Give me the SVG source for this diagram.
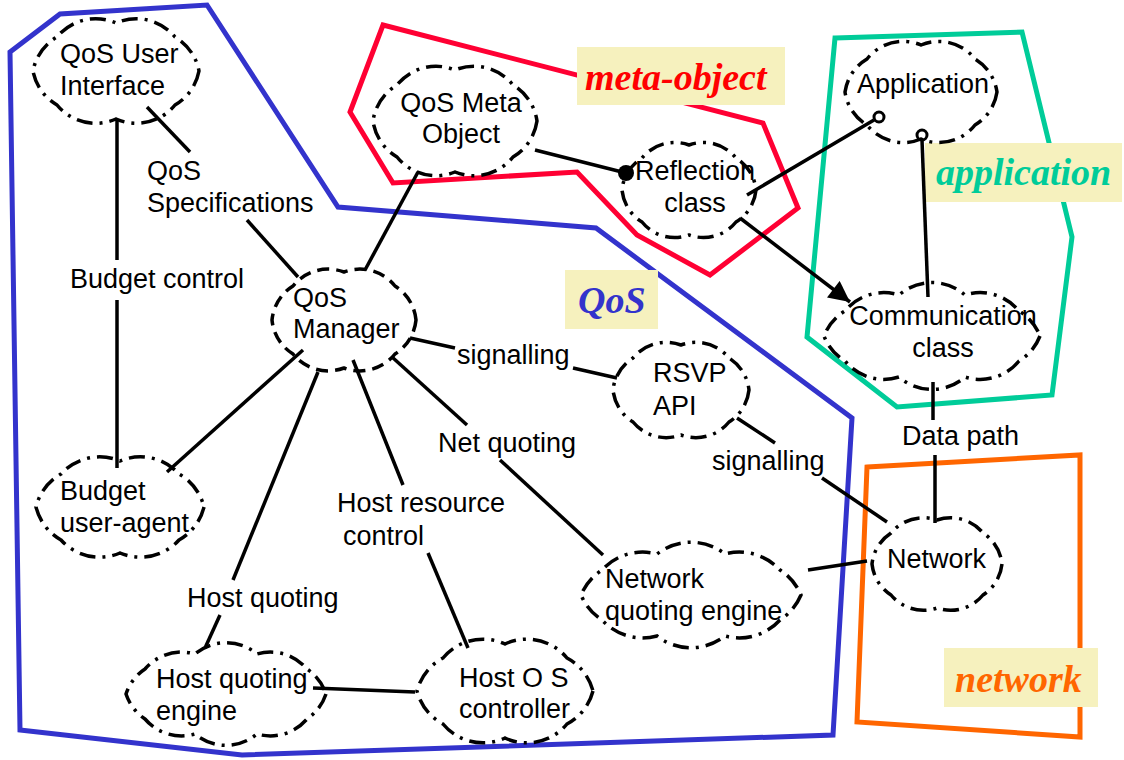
<svg xmlns="http://www.w3.org/2000/svg" width="1124" height="760" viewBox="0 0 1124 760">
<style>
.bg{fill:#ffffff}
.poly{fill:none;stroke-width:5;stroke-linejoin:miter}
.cloud{fill:none;stroke:#000;stroke-width:3.5;stroke-dasharray:16 7 3 7}
.cloud2{fill:none;stroke:#000;stroke-width:3.5;stroke-dasharray:12 7}
.t{font-family:'Liberation Sans',Arial,sans-serif;font-size:27px;fill:#000}
.lab{font-family:'Liberation Serif','Times New Roman',serif;font-size:38px;font-weight:bold;font-style:italic}
.box{fill:#F6F1BE}
.conn line{stroke:#000;stroke-width:3.5}
</style>
<defs>
<marker id="arr" viewBox="0 0 10 10" refX="10" refY="5" markerWidth="6.5" markerHeight="6" orient="auto" markerUnits="strokeWidth">
<path d="M0,0 L10,5 L0,10 z" fill="#000"/>
</marker>
</defs>
<rect class="bg" x="0" y="0" width="1124" height="760"/>

<g id="regions">
<polygon class="poly" stroke="#3333CC" points="10,52 60,14 207,5 338,207 596,228 852,418 833,735 242,755 20,730"/>
<polygon class="poly" stroke="#FF0033" points="383,25 763,123 798,208 710,275 637,235 577,172 393,183 350,112"/>
<polygon class="poly" stroke="#00CC99" points="835,38 1022,32 1072,237 1052,395 897,407 807,337"/>
<polygon class="poly" stroke="#FF6600" points="867,467 1080,455 1080,737 857,722"/>
</g>

<g id="region-labels">
<g id="label-meta-object"><rect class="box" x="577" y="47" width="208" height="58"/><text class="lab" x="585" y="90" fill="#FF0000">meta-object</text></g>
<g id="label-application"><rect class="box" x="925" y="143" width="197" height="59"/><text class="lab" x="936" y="185" fill="#00CC99">application</text></g>
<g id="label-qos"><rect class="box" x="565" y="270" width="93" height="59"/><text class="lab" x="578" y="313" fill="#3333CC">QoS</text></g>
<g id="label-network"><rect class="box" x="944" y="648" width="154" height="59"/><text class="lab" x="955" y="692" fill="#FF6600">network</text></g>
</g>

<g id="connectors" class="conn">
<line x1="117" y1="120" x2="117" y2="260"/><line x1="117" y1="300" x2="117" y2="468"/>
<text class="t" x="70" y="288">Budget control</text>
<line x1="147" y1="107" x2="190" y2="152"/><line x1="247" y1="220" x2="298" y2="277"/>
<text class="t" x="147" y="180">QoS</text><text class="t" x="147" y="212">Specifications</text>
<line x1="418" y1="172" x2="365" y2="270"/>
<line x1="535" y1="150" x2="626" y2="173"/>
<circle cx="626" cy="173" r="8" fill="#000"/>
<line x1="747" y1="195" x2="874" y2="120"/>
<circle cx="879" cy="117" r="5" fill="#fff" stroke="#000" stroke-width="3"/>
<line x1="922" y1="140" x2="928" y2="297"/>
<circle cx="922" cy="135" r="5" fill="#fff" stroke="#000" stroke-width="3"/>
<line x1="740" y1="218" x2="850" y2="302" marker-end="url(#arr)"/>
<line x1="933" y1="382" x2="933" y2="420"/><line x1="935" y1="455" x2="935" y2="523"/>
<text class="t" x="902" y="445">Data path</text>
<line x1="410" y1="338" x2="455" y2="348"/><line x1="573" y1="368" x2="617" y2="378"/>
<text class="t" x="457" y="364">signalling</text>
<line x1="737" y1="418" x2="775" y2="443"/><line x1="822" y1="478" x2="887" y2="522"/>
<text class="t" x="712" y="470">signalling</text>
<line x1="303" y1="350" x2="167" y2="472"/>
<line x1="318" y1="372" x2="233" y2="580"/><line x1="220" y1="615" x2="205" y2="648"/>
<text class="t" x="187" y="607">Host quoting</text>
<line x1="353" y1="360" x2="403" y2="485"/><line x1="428" y1="553" x2="468" y2="648"/>
<text class="t" x="337" y="512">Host resource</text><text class="t" x="343" y="545">control</text>
<line x1="392" y1="357" x2="467" y2="425"/><line x1="500" y1="460" x2="603" y2="555"/>
<text class="t" x="438" y="452">Net quoting</text>
<line x1="313" y1="688" x2="415" y2="692"/>
<line x1="808" y1="570" x2="867" y2="561"/>
</g>

<g id="node-qos-user-interface">
<path class="cloud" d="M199,71 A50,50 0 0 1 175,105 A50,50 0 0 1 116,119 A50,50 0 0 1 57,105 A50,50 0 0 1 33,71 A50,50 0 0 1 57,37 A50,50 0 0 1 116,23 A50,50 0 0 1 175,37 A50,50 0 0 1 199,71 Z"/>
<text class="t" x="60" y="63">QoS User</text><text class="t" x="60" y="95">Interface</text>
</g>
<g id="node-qos-meta-object">
<path class="cloud" d="M537,121 A50,50 0 0 1 513,157 A50,50 0 0 1 455,172 A50,50 0 0 1 397,157 A50,50 0 0 1 373,121 A50,50 0 0 1 397,85 A50,50 0 0 1 455,70 A50,50 0 0 1 513,85 A50,50 0 0 1 537,121 Z"/>
<text class="t" x="461" y="112" text-anchor="middle">QoS Meta</text><text class="t" x="461" y="143" text-anchor="middle">Object</text>
</g>
<g id="node-reflection-class">
<path class="cloud" d="M756,190 A42,42 0 0 1 736,222 A42,42 0 0 1 689,235 A42,42 0 0 1 642,222 A42,42 0 0 1 622,190 A42,42 0 0 1 642,158 A42,42 0 0 1 689,145 A42,42 0 0 1 736,158 A42,42 0 0 1 756,190 Z"/>
<text class="t" x="695" y="180" text-anchor="middle">Reflection</text><text class="t" x="695" y="212" text-anchor="middle">class</text>
</g>
<g id="node-application">
<path class="cloud" d="M997,92 A46,46 0 0 1 975,125 A46,46 0 0 1 921,139 A46,46 0 0 1 867,125 A46,46 0 0 1 845,92 A46,46 0 0 1 867,59 A46,46 0 0 1 921,45 A46,46 0 0 1 975,59 A46,46 0 0 1 997,92 Z"/>
<text class="t" x="923" y="93" text-anchor="middle">Application</text>
</g>
<g id="node-communication-class">
<path class="cloud" d="M1040,336 A50,50 0 0 1 1019,361 A50,50 0 0 1 965,377 A50,50 0 0 1 899,377 A50,50 0 0 1 845,361 A50,50 0 0 1 824,336 A50,50 0 0 1 845,311 A50,50 0 0 1 899,295 A50,50 0 0 1 965,295 A50,50 0 0 1 1019,311 A50,50 0 0 1 1040,336 Z"/>
<text class="t" x="943" y="325" text-anchor="middle">Communication</text><text class="t" x="943" y="357" text-anchor="middle">class</text>
</g>
<g id="node-qos-manager">
<path class="cloud2" d="M416,320 A45,45 0 0 1 395,354 A45,45 0 0 1 344,368 A45,45 0 0 1 293,354 A45,45 0 0 1 272,320 A45,45 0 0 1 293,286 A45,45 0 0 1 344,272 A45,45 0 0 1 395,286 A45,45 0 0 1 416,320 Z"/>
<text class="t" x="293" y="307">QoS</text><text class="t" x="293" y="338">Manager</text>
</g>
<g id="node-rsvp-api">
<path class="cloud" d="M749,390 A43,43 0 0 1 729,422 A43,43 0 0 1 681,435 A43,43 0 0 1 633,422 A43,43 0 0 1 613,390 A43,43 0 0 1 633,358 A43,43 0 0 1 681,345 A43,43 0 0 1 729,358 A43,43 0 0 1 749,390 Z"/>
<text class="t" x="653" y="382">RSVP</text><text class="t" x="653" y="415">API</text>
</g>
<g id="node-budget-user-agent">
<path class="cloud" d="M204,507 A52,52 0 0 1 179,540 A52,52 0 0 1 120,553 A52,52 0 0 1 61,540 A52,52 0 0 1 36,507 A52,52 0 0 1 61,474 A52,52 0 0 1 120,461 A52,52 0 0 1 179,474 A52,52 0 0 1 204,507 Z"/>
<text class="t" x="60" y="500">Budget</text><text class="t" x="60" y="532">user-agent</text>
</g>
<g id="node-host-quoting-engine">
<path class="cloud" d="M326,694 A48,48 0 0 1 307,719 A48,48 0 0 1 257,734 A48,48 0 0 1 195,734 A48,48 0 0 1 145,719 A48,48 0 0 1 126,694 A48,48 0 0 1 145,669 A48,48 0 0 1 195,654 A48,48 0 0 1 257,654 A48,48 0 0 1 307,669 A48,48 0 0 1 326,694 Z"/>
<text class="t" x="156" y="688">Host quoting</text><text class="t" x="156" y="720">engine</text>
</g>
<g id="node-host-os-controller">
<path class="cloud" d="M593,691 A52,52 0 0 1 567,724 A52,52 0 0 1 505,738 A52,52 0 0 1 443,724 A52,52 0 0 1 417,691 A52,52 0 0 1 443,658 A52,52 0 0 1 505,644 A52,52 0 0 1 567,658 A52,52 0 0 1 593,691 Z"/>
<text class="t" x="459" y="687">Host O S</text><text class="t" x="459" y="718">controller</text>
</g>
<g id="node-network-quoting-engine">
<path class="cloud" d="M801,595 A55,55 0 0 1 780,620 A55,55 0 0 1 725,636 A55,55 0 0 1 657,636 A55,55 0 0 1 602,620 A55,55 0 0 1 581,595 A55,55 0 0 1 602,570 A55,55 0 0 1 657,554 A55,55 0 0 1 725,554 A55,55 0 0 1 780,570 A55,55 0 0 1 801,595 Z"/>
<text class="t" x="605" y="588">Network</text><text class="t" x="605" y="620">quoting engine</text>
</g>
<g id="node-network">
<path class="cloud" d="M1002,564 A42,42 0 0 1 983,595 A42,42 0 0 1 937,608 A42,42 0 0 1 891,595 A42,42 0 0 1 872,564 A42,42 0 0 1 891,533 A42,42 0 0 1 937,520 A42,42 0 0 1 983,533 A42,42 0 0 1 1002,564 Z"/>
<text class="t" x="887" y="568">Network</text>
</g>
</svg>
